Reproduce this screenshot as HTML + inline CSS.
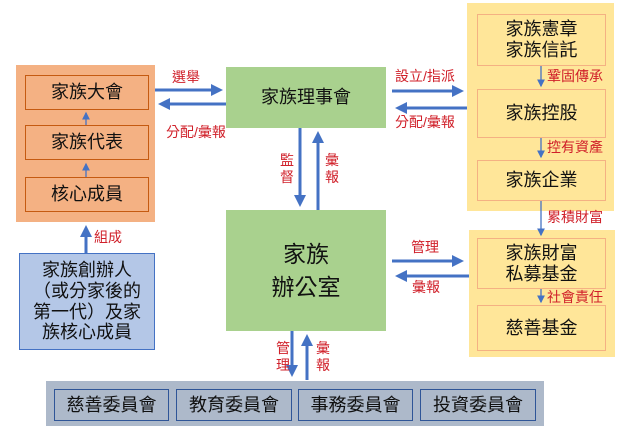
<!DOCTYPE html>
<html><head><meta charset="utf-8"><style>
body{margin:0;width:625px;height:441px;background:#fff;position:relative;overflow:hidden;font-family:"Liberation Sans","Noto Sans CJK TC",sans-serif}
div{position:absolute;box-sizing:border-box}
.c{display:flex;align-items:center;justify-content:center;text-align:center;color:#111;line-height:1.15}
.ob{background:#f4b183;border:1px solid #c55a11}
.yb{background:#ffe699;border:1.5px solid #f4b183}
.gb{background:#adb9ca;border:1.5px solid #2f5597;font-size:18px}
.lab{color:#d0202a;font-size:14px;white-space:nowrap;line-height:1.2}
</style></head><body>
<div style="left:16px;top:65px;width:139px;height:157px;background:#f4b183"></div>
<div class="c ob" style="left:25px;top:75px;width:124px;height:35px;font-size:18px">家族大會</div>
<div class="c ob" style="left:25px;top:125px;width:124px;height:35px;font-size:18px">家族代表</div>
<div class="c ob" style="left:25px;top:177px;width:124px;height:35px;font-size:18px">核心成員</div>
<div class="c" style="left:19px;top:253px;width:136px;height:97px;background:#b4c7e7;border:1.5px solid #4472c4;font-size:18px;line-height:1.15">家族創辦人<br>（或分家後的<br>第一代）及家<br>族核心成員</div>

<div class="c" style="left:226px;top:67px;width:160px;height:61px;background:#a9d18e;font-size:18px">家族理事會</div>
<div class="c" style="left:226px;top:210px;width:160px;height:121px;background:#a9d18e;font-size:23px;line-height:1.4">家族<br>辦公室</div>

<div style="left:467px;top:3px;width:147px;height:208px;background:#ffe699"></div>
<div class="c yb" style="left:477px;top:14px;width:129px;height:52px;font-size:18px">家族憲章<br>家族信託</div>
<div class="c yb" style="left:477px;top:89px;width:129px;height:49px;font-size:18px">家族控股</div>
<div class="c yb" style="left:477px;top:160px;width:129px;height:41px;font-size:18px">家族企業</div>
<div style="left:469px;top:230px;width:146px;height:127px;background:#ffe699"></div>
<div class="c yb" style="left:477px;top:238px;width:129px;height:51px;font-size:18px">家族財富<br>私募基金</div>
<div class="c yb" style="left:477px;top:305px;width:129px;height:46px;font-size:18px">慈善基金</div>

<div style="left:46px;top:381px;width:498px;height:45px;background:#adb9ca"></div>
<div class="c gb" style="left:54px;top:389px;width:115px;height:32px">慈善委員會</div>
<div class="c gb" style="left:176px;top:389px;width:116px;height:32px">教育委員會</div>
<div class="c gb" style="left:298px;top:389px;width:115px;height:32px">事務委員會</div>
<div class="c gb" style="left:420px;top:389px;width:116px;height:32px">投資委員會</div>

<svg style="position:absolute;left:0;top:0" width="625" height="441">
<defs><marker id="a" markerWidth="4" markerHeight="4" refX="3" refY="2" orient="auto"><path d="M0,0L4,2L0,4z" fill="#4472c4"/></marker>
<marker id="s" markerWidth="6" markerHeight="6" refX="5" refY="3" orient="auto"><path d="M0,0L6,3L0,6z" fill="#4472c4"/></marker></defs>
<g stroke="#4472c4" stroke-width="3" fill="none">
<line x1="155" y1="90" x2="220" y2="90" marker-end="url(#a)"/>
<line x1="226" y1="104" x2="161" y2="104" marker-end="url(#a)"/>
<line x1="392" y1="91" x2="461" y2="91" marker-end="url(#a)"/>
<line x1="467" y1="108" x2="398" y2="108" marker-end="url(#a)"/>
<line x1="392" y1="261" x2="461" y2="261" marker-end="url(#a)"/>
<line x1="469" y1="276" x2="398" y2="276" marker-end="url(#a)"/>
<line x1="300" y1="128" x2="300" y2="204" marker-end="url(#a)"/>
<line x1="318" y1="210" x2="318" y2="134" marker-end="url(#a)"/>
<line x1="292" y1="331" x2="292" y2="374" marker-end="url(#a)"/>
<line x1="307" y1="380" x2="307" y2="337" marker-end="url(#a)"/>
<line x1="86" y1="253" x2="86" y2="228" marker-end="url(#a)"/>
</g>
<g stroke="#4472c4" stroke-width="1.3" fill="none">
<line x1="86" y1="125" x2="86" y2="113" marker-end="url(#s)"/>
<line x1="86" y1="177" x2="86" y2="164" marker-end="url(#s)"/>
<line x1="541" y1="66" x2="541" y2="86" marker-end="url(#s)"/>
<line x1="541" y1="138" x2="541" y2="157" marker-end="url(#s)"/>
<line x1="541" y1="201" x2="541" y2="235" marker-end="url(#s)"/>
<line x1="541" y1="289" x2="541" y2="302" marker-end="url(#s)"/>
</g></svg>

<div class="lab" style="left:172px;top:69px">選舉</div>
<div class="lab" style="left:166px;top:124px">分配/彙報</div>
<div class="lab" style="left:94px;top:229px">組成</div>
<div class="lab" style="left:395px;top:68px">設立/指派</div>
<div class="lab" style="left:395px;top:114px">分配/彙報</div>
<div class="lab" style="left:547px;top:68px">鞏固傳承</div>
<div class="lab" style="left:547px;top:139px">控有資產</div>
<div class="lab" style="left:547px;top:209px">累積財富</div>
<div class="lab" style="left:547px;top:289px">社會責任</div>
<div class="lab" style="left:411px;top:239px">管理</div>
<div class="lab" style="left:412px;top:279px">彙報</div>
<div class="lab" style="left:280px;top:152px;white-space:normal;width:15px">監督</div>
<div class="lab" style="left:325px;top:152px;white-space:normal;width:15px">彙報</div>
<div class="lab" style="left:276px;top:340px;white-space:normal;width:15px">管理</div>
<div class="lab" style="left:316px;top:340px;white-space:normal;width:15px">彙報</div>
</body></html>
